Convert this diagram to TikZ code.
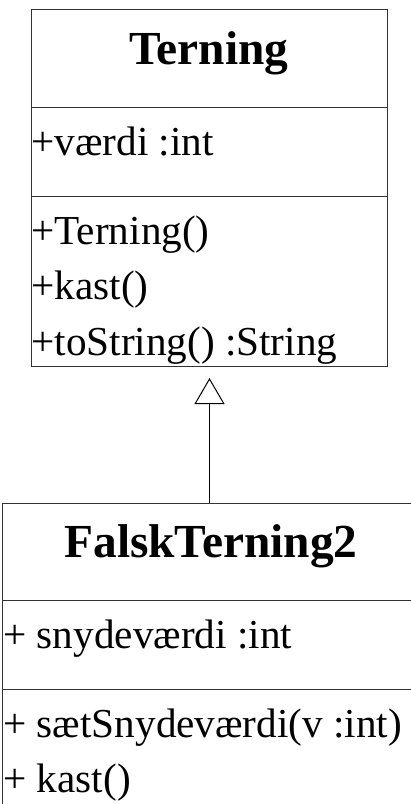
\documentclass[tikz,border=0pt]{standalone}
\usepackage{fontspec}
\setmainfont{Liberation Serif}
\usetikzlibrary{arrows.meta}
\tikzset{
  klassenavn/.style={font=\fontsize{23.7}{28}\selectfont\bfseries, inner sep=0pt, anchor=base},
  medlem/.style={font=\fontsize{20.6}{24}\selectfont, inner sep=0pt, anchor=base west},
  ramme/.style={draw=black!80, line width=0.5pt, inner sep=0pt, outer sep=0pt},
  skille/.style={draw=black!80, line width=0.5pt},
  arv/.style={-{Triangle[open, length=13pt, width=15pt]}, line width=0.5pt, shorten >=6pt}
}
\begin{document}
\begin{tikzpicture}[x=0.5pt, y=-0.5pt]
	\useasboundingbox (0,0) rectangle (411,804);
	\clip (0,0) rectangle (411,804);
	% Terning
	\node [ramme, minimum width=178pt, minimum height=178.5pt] (terning) at (209,187.5) {};
	\draw [skille] (31,107) -- (387,107);
	\draw [skille] (31,196) -- (387,196);
	\node [klassenavn] (terningnavn) at (209,64) {Terning};
	\node [medlem] (vaerdi) at (31,155) {+værdi :int};
	\node [medlem] (konstruktor) at (31,244) {+Terning()};
	\node [medlem] (kast) at (31,299) {+kast()};
	\node [medlem] (tostring) at (31,355) {+toString() :String};
	% FalskTerning2
	\node [ramme, minimum width=207.5pt, minimum height=158.5pt] (falsk) at (209.5,661.5) {};
	\draw [skille] (2,600) -- (417,600);
	\draw [skille] (2,689) -- (417,689);
	\node [klassenavn] (falsknavn) at (211,557) {FalskTerning2};
	\node [medlem] (snyde) at (3,648) {+ snydeværdi :int};
	\node [medlem] (saetsnyde) at (3,737) {+ sætSnydeværdi(v :int)};
	\node [medlem] (falskkast) at (3,792) {+ kast()};
	\draw [arv] (falsk.north) -- (falsk.north |- terning.south);
\end{tikzpicture}
\end{document}
